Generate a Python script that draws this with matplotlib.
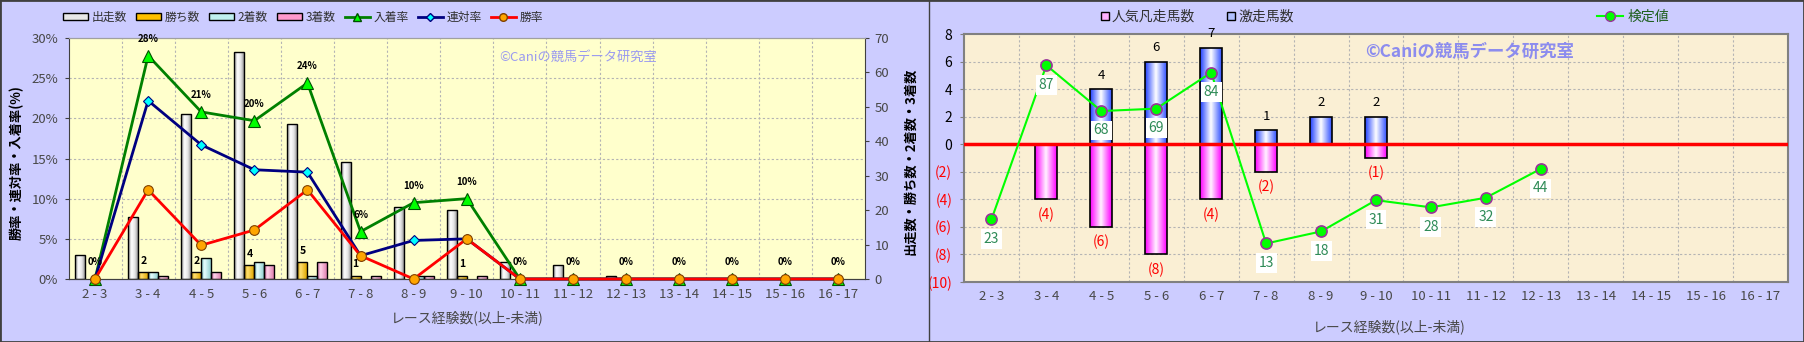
import matplotlib
matplotlib.use("Agg")
import matplotlib.pyplot as plt
import numpy as np
from matplotlib.lines import Line2D
from matplotlib.patches import Patch, Rectangle
from matplotlib.colors import LinearSegmentedColormap
from matplotlib.transforms import blended_transform_factory

plt.rcParams["font.family"] = ["Noto Sans CJK JP", "DejaVu Sans"]

W, H = 1804, 342

# --- data ---
categories = ["2 - 3", "3 - 4", "4 - 5", "5 - 6", "6 - 7", "7 - 8", "8 - 9", "9 - 10",
              "10 - 11", "11 - 12", "12 - 13", "13 - 14", "14 - 15", "15 - 16", "16 - 17"]

# left chart (counts)
starts = [7, 18, 48, 66, 45, 34, 21, 20, 5, 4, 1, 0, 0, 0, 0]
wins = [0, 2, 2, 4, 5, 1, 0, 1, 0, 0, 0, 0, 0, 0, 0]
seconds = [0, 2, 6, 5, 1, 0, 1, 0, 0, 0, 0, 0, 0, 0, 0]
thirds = [0, 1, 2, 4, 5, 1, 1, 1, 0, 0, 0, 0, 0, 0, 0]
# left chart (rates, %)
place_rate = [0, 27.8, 20.8, 19.7, 24.4, 5.9, 9.5, 10.0, 0, 0, 0, 0, 0, 0, 0]
rentai_rate = [0, 22.2, 16.7, 13.6, 13.3, 2.9, 4.8, 5.0, 0, 0, 0, 0, 0, 0, 0]
win_rate = [0, 11.1, 4.2, 6.1, 11.1, 2.9, 0, 5.0, 0, 0, 0, 0, 0, 0, 0]

# right chart
upset = [0, 0, 4, 6, 7, 1, 2, 2, 0, 0, 0, 0, 0, 0, 0]      # 激走馬数
flop = [0, 4, 6, 8, 4, 2, 0, 1, 0, 0, 0, 0, 0, 0, 0]       # 人気凡走馬数
test_value = [23, 87, 68, 69, 84, 13, 18, 31, 28, 32, 44, np.nan, np.nan, np.nan, np.nan]

x = np.arange(len(categories))

BG = "#CCCCFF"
TXT = "#484848"
GRID = dict(color="#B4B4B4", lw=0.8, ls=(0, (2, 2)), zorder=1)


def frect(x0, y0, x1, y1):
    return [x0 / W, 1 - y1 / H, (x1 - x0) / W, (y1 - y0) / H]


def gradient_bars(ax, bars, stops):
    cmap = LinearSegmentedColormap.from_list("g", stops)
    grad = np.linspace(0, 1, 64).reshape(1, -1)
    for b in bars:
        h = b.get_height()
        if h == 0:
            b.set_visible(False)
            continue
        x0, y0, w = b.get_x(), b.get_y(), b.get_width()
        im = ax.imshow(grad, cmap=cmap, extent=[x0, x0 + w, y0, y0 + h],
                       aspect="auto", interpolation="bilinear", zorder=1.9)
        im.set_clip_path(b)
        b.set_facecolor("none")


fig = plt.figure(figsize=(W / 100, H / 100), dpi=100)
fig.patch.set_facecolor(BG)

# ================= left chart =================
ax = fig.add_axes(frect(68.5, 38, 865, 279))
axc = ax.twinx()
ax.set_zorder(axc.get_zorder() + 1)
ax.patch.set_visible(False)
axc.patch.set_visible(True)
axc.patch.set_facecolor("#FFFFCC")

bw = 0.188
bar_series = [
    (starts, -1.5, [(0, "#8C8C8C"), (0.35, "#FFFFFF"), (0.7, "#E4E4E4"), (1, "#9A9A9A")]),
    (wins, -0.5, [(0, "#C89600"), (0.35, "#FFE070"), (1, "#E0A800")]),
    (seconds, 0.5, [(0, "#70BCBC"), (0.35, "#E8FFFF"), (1, "#90D0D0")]),
    (thirds, 1.5, [(0, "#D060A0"), (0.35, "#FFD4EA"), (1, "#E080B0")]),
]
for vals, off, stops in bar_series:
    bars = axc.bar(x + off * bw, vals, bw, edgecolor="black", linewidth=1.0, zorder=2)
    gradient_bars(axc, bars, stops)

for i in range(len(categories) - 1):
    axc.axvline(i + 0.5, **GRID)
pct_ticks = [0, 5, 10, 15, 20, 25, 30]
trans = blended_transform_factory(axc.transAxes, ax.transData)
for p in pct_ticks[1:-1]:
    axc.add_line(Line2D([0, 1], [p, p], transform=trans, **GRID))

for i, v in enumerate(wins):
    if v > 0:
        axc.annotate(str(v), (x[i] - 0.5 * bw, v), xytext=(0, 8), textcoords="offset points",
                     ha="center", va="center", fontsize=7.5, fontweight="bold", zorder=5)

ax.plot(x, place_rate, color="#008000", lw=2, marker="^", ms=8, mfc="#00FF00", mec="#005000",
        mew=0.8, zorder=2, clip_on=False)
ax.plot(x, rentai_rate, color="#000080", lw=2, marker="D", ms=5.5, mfc="#00FFFF", mec="#000080",
        mew=0.8, zorder=3, clip_on=False)
ax.plot(x, win_rate, color="#FF0000", lw=2, marker="o", ms=7, mfc="#FFA500", mec="#804000",
        mew=0.8, zorder=4, clip_on=False)
for i, v in enumerate(place_rate):
    ax.annotate(f"{v:.0f}%", (x[i], v), xytext=(0, 12), textcoords="offset points",
                ha="center", va="center", fontsize=7, fontweight="bold")

ax.set_xlim(-0.5, len(categories) - 0.5)
axc.set_xlim(-0.5, len(categories) - 0.5)
ax.set_ylim(0, 30)
axc.set_ylim(0, 70)
ax.set_yticks(pct_ticks)
ax.set_yticklabels([f"{p}%" for p in pct_ticks])
axc.set_yticks(range(0, 71, 10))
ax.set_xticks(x)
ax.set_xticklabels(categories)
ax.tick_params(axis="x", length=0, pad=6.5, labelsize=9.5, labelcolor=TXT)
ax.tick_params(axis="y", length=3, pad=4.5, labelsize=9.5, labelcolor=TXT, color="#404040")
axc.tick_params(axis="y", length=3, pad=4, labelsize=9.5, labelcolor=TXT, color="#404040")
for a in (ax, axc):
    for s in a.spines.values():
        s.set_color("#404040")
    a.spines["top"].set_color("#A0A0A0")
ax.spines["right"].set_visible(False)
axc.spines["left"].set_visible(False)

ax.text(0.541, 0.921, "©Caniの競馬データ研究室", transform=ax.transAxes, fontsize=9.5,
        color="#9A9AF0", va="center", ha="left", zorder=6)

fig.text(17 / W, 1 - 163 / H, "勝率・連対率・入着率(%)", rotation=90, ha="center", va="center",
         fontsize=9.5, fontweight="bold")
fig.text(910 / W, 1 - 161 / H, "出走数・勝ち数・2着数・3着数", rotation=90, ha="center",
         va="center", fontsize=9.5, fontweight="bold")
fig.text(467 / W, 1 - 318 / H, "レース経験数(以上-未満)", ha="center", va="center",
         fontsize=10, color=TXT)

left_handles = [
    Patch(facecolor="#E8E8E8", edgecolor="black", label="出走数"),
    Patch(facecolor="#FFC000", edgecolor="black", label="勝ち数"),
    Patch(facecolor="#C0F0F0", edgecolor="black", label="2着数"),
    Patch(facecolor="#FF99CC", edgecolor="black", label="3着数"),
    Line2D([], [], color="#008000", lw=2, marker="^", ms=6, mfc="#00FF00", mec="#005000", label="入着率"),
    Line2D([], [], color="#000080", lw=2, marker="D", ms=4.5, mfc="#00FFFF", mec="#000080", label="連対率"),
    Line2D([], [], color="#FF0000", lw=2, marker="o", ms=5.5, mfc="#FFA500", mec="#804000", label="勝率"),
]
fig.legend(handles=left_handles, loc="center", bbox_to_anchor=(303 / W, 1 - 17 / H), ncol=7,
           frameon=False, fontsize=8.5, handlelength=2.1, handleheight=0.5, handletextpad=0.3,
           columnspacing=0.8, labelcolor="#303030")

# ================= right chart =================
ax2 = fig.add_axes(frect(964, 34, 1788, 282))
ax2.set_facecolor("#FAEFD4")
ax2b = ax2.twinx()

b_up = ax2.bar(x, upset, 0.4, edgecolor="black", linewidth=1.2, zorder=2)
gradient_bars(ax2, b_up, [(0, "#2040FF"), (0.5, "#FFFFFF"), (1, "#3050FF")])
b_fl = ax2.bar(x, -np.array(flop), 0.4, edgecolor="black", linewidth=1.2, zorder=2)
gradient_bars(ax2, b_fl, [(0, "#FF00FF"), (0.5, "#FFF4FF"), (1, "#FF00FF")])
ax2.axhline(0, color="#FF0000", lw=2.5, zorder=3)

for i in range(len(categories) - 1):
    ax2.axvline(i + 0.5, **GRID)
for v in range(-8, 8, 2):
    ax2.axhline(v, **GRID)

for i, v in enumerate(upset):
    if v > 0:
        ax2.annotate(str(v), (x[i], v), xytext=(0, 10), textcoords="offset points",
                     ha="center", va="center", fontsize=9.5)
for i, v in enumerate(flop):
    if v > 0:
        ax2.annotate(f"({v})", (x[i], -v), xytext=(0, -11), textcoords="offset points",
                     ha="center", va="center", fontsize=10, color="#FF0000")

ax2b.plot(x, test_value, color="#00FF00", lw=1.5, marker="o", ms=8, mfc="#00FF00",
          mec="#993399", mew=1.2)
for i, v in enumerate(test_value):
    if not np.isnan(v):
        ax2b.annotate(f"{v:.0f}", (x[i], v), xytext=(0, -14), textcoords="offset points",
                      ha="center", va="center", fontsize=10, color="#2E8B57",
                      bbox=dict(boxstyle="square,pad=0.2", fc="white", ec="none"))

ax2.set_xlim(-0.5, len(categories) - 0.5)
ax2b.set_xlim(-0.5, len(categories) - 0.5)
ax2.set_ylim(-10, 8)
ax2b.set_ylim(-3, 100)
ax2b.set_yticks([])
for s in ax2b.spines.values():
    s.set_visible(False)
yt = list(range(-10, 9, 2))
ax2.set_yticks(yt)
ax2.set_yticklabels([f"({-v})" if v < 0 else str(v) for v in yt])
for lab, v in zip(ax2.get_yticklabels(), yt):
    lab.set_color("#FF0000" if v < 0 else "black")
ax2.set_xticks(x)
ax2.set_xticklabels(categories)
ax2.tick_params(axis="x", length=0, pad=6, labelsize=9.5, labelcolor=TXT)
ax2.tick_params(axis="y", length=3, pad=5.5, labelsize=10, color="#808080")
for s in ax2.spines.values():
    s.set_color("#808080")
    s.set_linewidth(1.5)

ax2.text(0.487, 0.927, "©Caniの競馬データ研究室", transform=ax2.transAxes, fontsize=12.5,
         fontweight="bold", color="#8C8CEE", va="center", ha="left", zorder=6)
fig.text(1389 / W, 1 - 327 / H, "レース経験数(以上-未満)", ha="center", va="center",
         fontsize=10, color=TXT)

right_handles = [
    Line2D([], [], ls="none", marker="s", ms=6, mfc="#FFB0FF", mec="black", label="人気凡走馬数"),
    Line2D([], [], ls="none", marker="s", ms=6, mfc="#B0C0FF", mec="black", label="激走馬数"),
]
fig.legend(handles=right_handles, loc="center", bbox_to_anchor=(1197 / W, 1 - 17 / H), ncol=2,
           frameon=False, fontsize=10, handlelength=0.6, handletextpad=0.2, columnspacing=2.3,
           labelcolor="#303030")
fig.legend(handles=[Line2D([], [], color="#00FF00", lw=1.5, marker="o", ms=7, mfc="#00FF00",
                           mec="#993399", label="検定値")],
           loc="center", bbox_to_anchor=(1633 / W, 1 - 17 / H), frameon=False, fontsize=10,
           handlelength=1.9, handletextpad=0.3, labelcolor="#206020")

# panel borders
fig.add_artist(Rectangle((0, 0), 1, 1, transform=fig.transFigure, fill=False,
                         edgecolor="#404040", lw=2))
fig.add_artist(Line2D([929 / W, 929 / W], [0, 1], transform=fig.transFigure,
                      color="#404040", lw=1))

fig.savefig("out.png", dpi=100, facecolor=BG)
